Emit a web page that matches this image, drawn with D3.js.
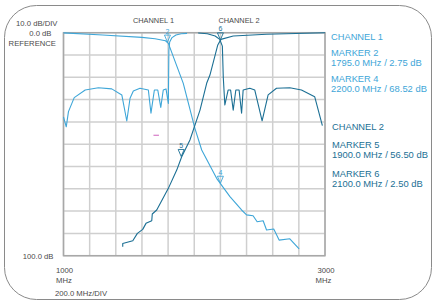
<!DOCTYPE html>
<html>
<head>
<meta charset="utf-8">
<script src="https://cdn.jsdelivr.net/npm/d3@7"></script>
<style>
  body { margin: 0; background: #fff; }
  svg text { font-family: "Liberation Sans", Arial, sans-serif; }
</style>
</head>
<body>
<div id="chart"></div>
<script>
// duplexer sweep: [MHz, dB]
const ch1Trans = [[1000,-0.1],[1300,-1.0],[1600,-2.1],[1700,-2.7],[1780,-3.6],[1802,-4.8],
  [1916,-22.7],[2005,-42.9],[2057,-52.6],[2171,-65.3],[2273,-73.5],[2362,-79.5],[2400,-81.7],
  [2450,-82.1],[2481,-84.8],[2527,-84.3],[2553,-88.5],[2608,-88],[2649,-93],[2731,-92.4],[2802,-96.9]];
const ch1Return = [[1000,-37.7],[1021,-42.2],[1038,-35.4],[1082,-29.1],[1166,-25.7],[1267,-24.7],
  [1369,-25.2],[1446,-27.9],[1484,-39.6],[1509,-29.4],[1534,-26.1],[1585,-24.9],[1649,-25.7],
  [1669,-36.1],[1695,-25.7],[1721,-25.7],[1744,-33.5],[1763,-25.7],[1784,-25.2],[1802,-31.7],
  [1806,-8],[1812,-4.2],[1830,-2.2],[1860,-1.0],[1900,-0.5],[1945,-0.3]];
const ch2Trans = [[1453,-96],[1453,-94.5],[1530,-93.3],[1565,-90],[1606,-88.2],[1631,-85.5],
  [1675,-84.3],[1679,-81.3],[1713,-79.5],[1802,-69.8],[1866,-61.6],[1904,-55.6],[1967,-48.1],
  [2044,-34.7],[2095,-22.7],[2120,-19],[2180,-5.5],[2204,-3],[2298,-1.5],[2553,-0.7],[3000,0]];
const ch2Return = [[2030,-0.1],[2100,-0.5],[2160,-1.5],[2195,-3],[2215,-6],[2222,-20],
  [2234,-32.4],[2259,-25.7],[2278,-25.7],[2298,-34.7],[2318,-25.7],[2343,-25.7],[2362,-36.1],
  [2374,-25.7],[2425,-24.9],[2463,-25.7],[2519,-39.5],[2565,-27.9],[2629,-24.9],[2731,-24.7],
  [2820,-25.7],[2921,-28.7],[2980,-41.7]];

// markers: id, MHz, dB, channel
const markers = [["2",1795,-4.2,1],["4",2200,-67.5,1],["5",1900,-55.5,2],["6",2200,-3.2,2]];
// stray magenta tick on the screen
const strayMark = [[1688,-46],[1730,-46]];

const legend1 = ["MARKER 2","1795.0 MHz / 2.75 dB","MARKER 4","2200.0 MHz / 68.52 dB"];
const legend2 = ["MARKER 5","1900.0 MHz / 56.50 dB","MARKER 6","2100.0 MHz / 2.50 dB"];

const C1 = "#3ea6d8", C2 = "#1b6f94";
const width = 433, height = 301;

const svg = d3.select("#chart").append("svg")
  .attr("width", width).attr("height", height);

// outer rounded frame
svg.append("rect")
  .attr("x", 4.5).attr("y", 5.5).attr("width", 427).attr("height", 294)
  .attr("rx", 32).attr("ry", 32)
  .attr("fill", "none").attr("stroke", "#8a8a8a").attr("stroke-width", 1);

const x = d3.scaleLinear().domain([1000, 3000]).range([63.5, 325]);
const y = d3.scaleLinear().domain([-100, 0]).range([255.7, 32.7]);

// grid
const g = svg.append("g");
g.selectAll("line.v").data(d3.range(1000, 3001, 200)).join("line")
  .attr("x1", d => x(d)).attr("x2", d => x(d))
  .attr("y1", y(0)).attr("y2", y(-100))
  .attr("stroke", "#cfcfcf").attr("stroke-width", 1.5);
g.selectAll("line.h").data(d3.range(-100, 1, 10)).join("line")
  .attr("y1", d => y(d)).attr("y2", d => y(d))
  .attr("x1", x(1000)).attr("x2", x(3000))
  .attr("stroke", "#cfcfcf").attr("stroke-width", 1.5);
g.append("rect")
  .attr("x", x(1000)).attr("y", y(0))
  .attr("width", x(3000) - x(1000)).attr("height", y(-100) - y(0))
  .attr("fill", "none").attr("stroke", "#a8a8a8").attr("stroke-width", 1.5);

const line = d3.line().x(d => x(d[0])).y(d => y(d[1]));
svg.append("path").attr("d", line(strayMark))
  .attr("stroke", "#d77cc8").attr("stroke-width", 1.2);

const traces = [[ch1Trans, C1], [ch1Return, C1], [ch2Trans, C2], [ch2Return, C2]];
svg.append("g").selectAll("path").data(traces).join("path")
  .attr("d", d => line(d[0]))
  .attr("fill", "none").attr("stroke", d => d[1])
  .attr("stroke-width", 1.1).attr("stroke-linejoin", "round");

// markers
const mg = svg.append("g").selectAll("g").data(markers).join("g")
  .attr("transform", d => `translate(${x(d[1])},${y(d[2])})`);
mg.append("path")
  .attr("d", "M0,0 L-3,-7 L3,-7 Z")
  .attr("fill", "none").attr("stroke", d => d[3] === 1 ? C1 : C2).attr("stroke-width", 0.9);
mg.append("text")
  .attr("x", 0).attr("y", -8.5).attr("text-anchor", "middle")
  .attr("font-size", 7).attr("fill", d => d[3] === 1 ? C1 : C2)
  .text(d => d[0]);

// axis labels
const gray = "#4a4a4a";
function label(t, xx, yy, anchor, size, fill) {
  svg.append("text").attr("x", xx).attr("y", yy)
    .attr("text-anchor", anchor || "start")
    .attr("font-size", size || 7.7).attr("fill", fill || gray).text(t);
}
label("10.0 dB/DIV", 57.5, 25.5, "end");
label("0.0 dB", 51.5, 35.5, "end");
label("REFERENCE", 56, 46, "end");
label("100.0 dB", 53.5, 259, "end");
label("1000", 56, 273);
label("MHz", 56, 283);
label("200.0 MHz/DIV", 55, 296);
label("3000", 326, 272.5, "middle");
label("MHz", 323.5, 282.5, "middle");
label("CHANNEL 1", 153.5, 23, "middle", 7.4);
label("CHANNEL 2", 239, 23, "middle", 7.4);

// legend
label("CHANNEL 1", 331, 39.5, "start", 9.3, C1);
legend1.forEach((t, i) => {
  const yy = [56, 66, 82, 92][i];
  label(t, 331, yy, "start", i % 2 ? 9.4 : 9.3, C1);
});
label("CHANNEL 2", 332, 129.5, "start", 9.3, C2);
legend2.forEach((t, i) => {
  const yy = [147.5, 157.5, 176.5, 186.5][i];
  label(t, 332, yy, "start", i % 2 ? 9.4 : 9.3, C2);
});
</script>
</body>
</html>
